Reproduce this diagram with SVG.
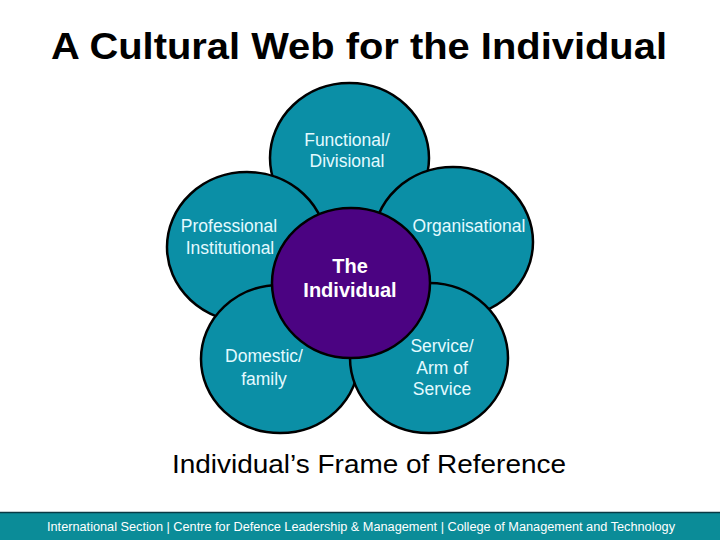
<svg xmlns="http://www.w3.org/2000/svg" width="720" height="540" viewBox="0 0 720 540">
<style>
.petal{fill:#0B8FA6;stroke:#000;stroke-width:2.5}
.core{fill:#4B0382;stroke:#000;stroke-width:2.5}
.lbl{font-family:"Liberation Sans",Arial,sans-serif;font-size:17.5px;fill:#E4FAFF;text-anchor:middle}
.clbl{font-family:"Liberation Sans",Arial,sans-serif;font-size:20px;font-weight:bold;fill:#FFFFFF;text-anchor:middle}
</style>
<rect width="720" height="540" fill="#FFFFFF"/>
<text x="359" y="59" font-family="Liberation Sans,Arial,sans-serif" font-size="36" font-weight="bold" text-anchor="middle" fill="#000" textLength="616" lengthAdjust="spacingAndGlyphs">A Cultural Web for the Individual</text>
<g id="functional"><ellipse class="petal" cx="349.5" cy="158" rx="79.5" ry="75"/><text class="lbl" x="347" y="146">Functional/</text><text class="lbl" x="347" y="167">Divisional</text></g>
<g id="professional"><ellipse class="petal" cx="247" cy="247" rx="80" ry="75"/><text class="lbl" x="229" y="232">Professional</text><text class="lbl" x="230" y="254">Institutional</text></g>
<g id="organisational"><ellipse class="petal" cx="453" cy="242" rx="80" ry="75"/><text class="lbl" x="469" y="232">Organisational</text></g>
<g id="domestic"><ellipse class="petal" cx="280" cy="359" rx="79" ry="74"/><text class="lbl" x="264" y="362">Domestic/</text><text class="lbl" x="264" y="385">family</text></g>
<g id="service"><ellipse class="petal" cx="429" cy="358" rx="79" ry="75"/><text class="lbl" x="442" y="352">Service/</text><text class="lbl" x="442" y="374">Arm of</text><text class="lbl" x="442" y="395">Service</text></g>
<g id="individual"><ellipse class="core" cx="351" cy="283" rx="79" ry="75"/><text class="clbl" x="350" y="273">The</text><text class="clbl" x="350" y="297">Individual</text></g>
<g id="connectors"></g>
<text x="369" y="473" font-family="Liberation Sans,Arial,sans-serif" font-size="25" text-anchor="middle" fill="#000" textLength="394" lengthAdjust="spacingAndGlyphs">Individual’s Frame of Reference</text>
<rect x="0" y="512" width="720" height="28" fill="#0B8C98"/>
<line x1="0" y1="512.5" x2="720" y2="512.5" stroke="#0A3A44" stroke-width="1.5"/>
<text x="361" y="531" font-family="Liberation Sans,Arial,sans-serif" font-size="12" fill="#FFFFFF" text-anchor="middle" textLength="628" lengthAdjust="spacingAndGlyphs">International Section | Centre for Defence Leadership &amp; Management | College of Management and Technology</text>
</svg>
